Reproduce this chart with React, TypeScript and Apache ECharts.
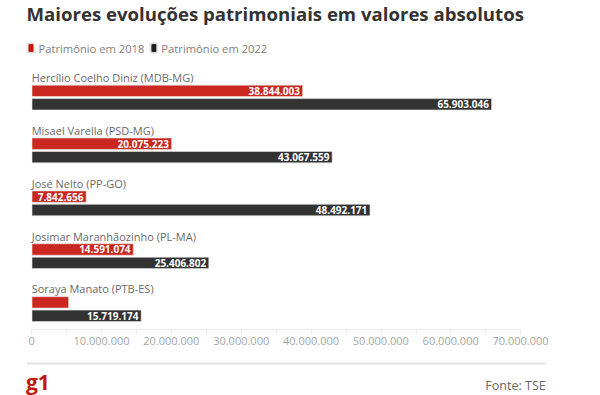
import React, { useEffect, useRef } from "react";
import * as echarts from "echarts";

const categories = [
  "Hercílio Coelho Diniz (MDB-MG)",
  "Misael Varella (PSD-MG)",
  "José Nelto (PP-GO)",
  "Josimar Maranhãozinho (PL-MA)",
  "Soraya Manato (PTB-ES)",
];
const values2018 = [38844003, 20075223, 7842656, 14591074, 5330000];
const values2022 = [65903046, 43067559, 48492171, 25406802, 15719174];
const show2018Label = [true, true, true, true, false];
const seriesNames = ["Patrimônio em 2018", "Patrimônio em 2022"];
const titleText = "Maiores evoluções patrimoniais em valores absolutos";
const sourceText = "Fonte: TSE";

const RED = "#c9271f";
const DARK = "#333333";
const FONT = "'Open Sans', sans-serif";
const LEGEND_ICON =
  "path://M2,0 H5 A2,2 0 0 1 7,2 V8 A2,2 0 0 1 5,10 H2 A2,2 0 0 1 0,8 V2 A2,2 0 0 1 2,0 Z";

const fmt = (v: number) =>
  Math.round(v)
    .toString()
    .replace(/\B(?=(\d{3})+(?!\d))/g, ".");

export default function App() {
  const ref = useRef<HTMLDivElement>(null);
  useEffect(() => {
    document.body.style.margin = "0";
    const chart = echarts.init(ref.current!, undefined, { renderer: "svg" });
    const barLabel = {
      show: true,
      position: "insideRight",
      distance: 3,
      color: "#fff",
      fontFamily: FONT,
      fontWeight: "bold",
      fontSize: 10,
      formatter: (p: any) => fmt(p.value),
    };
    chart.setOption({
      animation: false,
      textStyle: { fontFamily: FONT },
      title: {
        text: titleText,
        left: 21.5,
        top: -1,
        textStyle: { fontFamily: FONT, fontSize: 18.6, fontWeight: "bold", color: "#333" },
      },
      legend: {
        data: seriesNames.map((n, i) => ({
          name: n,
          icon: LEGEND_ICON,
          itemStyle: { color: i === 0 ? "#c4170c" : "#222" },
        })),
        left: 21.5,
        top: 37,
        itemWidth: 7,
        itemHeight: 10,
        itemGap: 5,
        textStyle: { fontFamily: FONT, fontSize: 11.2, color: "#808080", padding: [0, 0, 0, -1] },
        selectedMode: false,
      },
      grid: { left: 31.7, right: 79.5, top: 64.4, bottom: 66.2 },
      xAxis: {
        type: "value",
        min: 0,
        max: 70000000,
        interval: 10000000,
        splitLine: { show: false },
        axisLine: { show: true, lineStyle: { color: "#ececec", width: 1 } },
        axisTick: { show: true, length: 5, lineStyle: { color: "#ececec" } },
        minorTick: { show: true, splitNumber: 2, length: 5, lineStyle: { color: "#ececec" } },
        axisLabel: {
          color: "#a6a6a6",
          fontSize: 11,
          fontFamily: FONT,
          margin: 6,
          formatter: (v: number) => fmt(v),
        },
      },
      yAxis: {
        type: "category",
        data: categories,
        inverse: true,
        axisLine: { show: false },
        axisTick: { show: false },
        axisLabel: { show: false },
      },
      series: [
        {
          name: "names",
          type: "bar",
          barWidth: 12,
          silent: true,
          itemStyle: { color: "transparent" },
          data: categories.map(() => 0),
          label: {
            show: true,
            position: "right",
            distance: 0,
            color: "#6a6a6a",
            fontSize: 11,
            fontFamily: FONT,
            formatter: (p: any) => categories[p.dataIndex],
          },
        },
        {
          name: seriesNames[0],
          type: "bar",
          barWidth: 12,
          itemStyle: { color: RED, borderColor: "#e6e6e6", borderWidth: 0.6 },
          label: barLabel,
          data: values2018.map((v, i) => ({ value: v, label: { show: show2018Label[i] } })),
        },
        {
          name: seriesNames[1],
          type: "bar",
          barWidth: 12,
          barGap: "12%",
          itemStyle: { color: DARK, borderColor: "#e6e6e6", borderWidth: 0.6 },
          label: barLabel,
          data: values2022,
        },
      ],
      graphic: [
        {
          type: "line",
          shape: { x1: 27, y1: 363.5, x2: 545.7, y2: 363.5 },
          style: { stroke: "#e2e2e2", lineWidth: 2 },
        },
        {
          type: "text",
          x: 26,
          y: 382,
          style: {
            text: "g1",
            fill: "#c4170c",
            fontFamily: FONT,
            fontWeight: "bold",
            fontSize: 21,
            letterSpacing: -1.5,
            verticalAlign: "middle",
          },
        },
        {
          type: "text",
          x: 545.7,
          y: 385,
          style: {
            text: sourceText,
            fill: "#666",
            fontFamily: FONT,
            fontSize: 12.5,
            align: "right",
            verticalAlign: "middle",
          },
        },
      ],
    });
    return () => chart.dispose();
  }, []);
  return <div ref={ref} style={{ width: 600, height: 395 }} />;
}
